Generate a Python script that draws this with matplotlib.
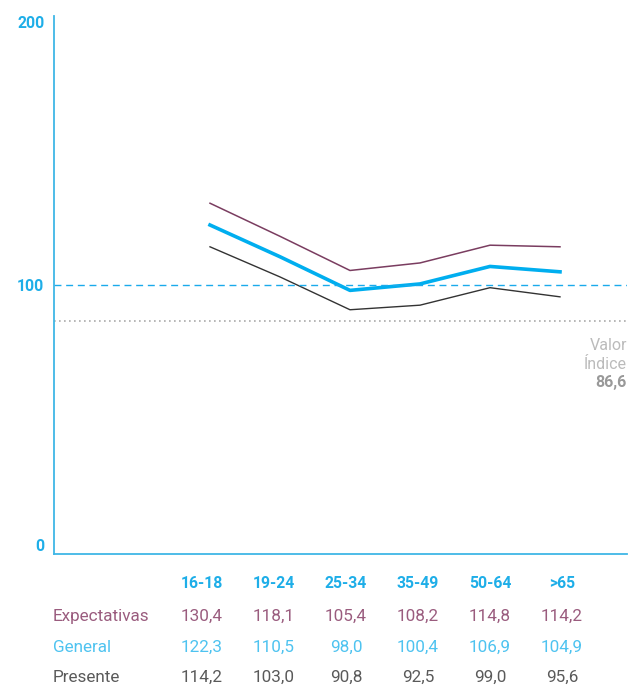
import matplotlib
matplotlib.use("Agg")
import matplotlib.pyplot as plt
from matplotlib.transforms import blended_transform_factory

plt.rcParams['font.family'] = ['Roboto', 'DejaVu Sans']

categories = ["16-18", "19-24", "25-34", "35-49", "50-64", ">65"]
expectativas = [130.4, 118.1, 105.4, 108.2, 114.8, 114.2]
general = [122.3, 110.5, 98.0, 100.4, 106.9, 104.9]
presente = [114.2, 103.0, 90.8, 92.5, 99.0, 95.6]
valor_indice = 86.6
yticks = [0, 100, 200]

def fmt(v):
    return f"{v:.1f}".replace(".", ",")

CYAN = "#1EAEE8"
PURPLE_LINE = "#7A3D60"
PURPLE_TXT = "#9A5C7E"
GEN_LINE = "#00AEEF"
GEN_TXT = "#4EC3F0"
PRES_LINE = "#333333"
PRES_TXT = "#5A5A5A"

W, H = 629, 688
fig = plt.figure(figsize=(W/100, H/100), dpi=100)
ax = fig.add_axes([54/W, (H-554)/H, 573/W, (554-16)/H])

x = list(range(len(categories)))
ax.plot(x, expectativas, color=PURPLE_LINE, lw=1.1)
ax.plot(x, general, color=GEN_LINE, lw=2.6)
ax.plot(x, presente, color=PRES_LINE, lw=1.0)

ax.axhline(100, color="#1AAAEB", lw=1.0, ls=(0, (5, 3.4)))
ax.axhline(valor_indice, color="#AAAAAA", lw=1.2, ls=(0, (1, 2)))

ax.set_ylim(0, 200)
ax.set_xlim(-(210-54)/70, 5 + (627-560)/70)
ax.set_yticks(yticks)
ax.set_yticklabels([str(t) for t in yticks], color=CYAN, fontweight="bold", fontsize=11.3)
ax.tick_params(axis="y", length=0, pad=7)
labs = ax.get_yticklabels()
labs[0].set_va("bottom")
labs[-1].set_va("top")
ax.set_xticks([])
for s in ["top", "right"]:
    ax.spines[s].set_visible(False)
for s in ["left", "bottom"]:
    ax.spines[s].set_color("#3FB6E6")
    ax.spines[s].set_linewidth(1.3)

# Valor indice annotation
tr_right = blended_transform_factory(ax.transAxes, fig.transFigure)
ax.text(1.0, 1 - 346/H, "Valor", transform=tr_right, ha="right", va="center",
        color="#BBBBBB", fontsize=11.5)
ax.text(1.0, 1 - 364/H, "Índice", transform=tr_right, ha="right", va="center",
        color="#BBBBBB", fontsize=11.5)
ax.text(1.0, 1 - 382/H, fmt(valor_indice), transform=tr_right, ha="right", va="center",
        color="#999999", fontsize=11.5, fontweight="bold")

# Table below: its own column scale
tax = fig.add_axes([0, 0, 1, 1], zorder=-1)
tax.set_axis_off()
tax.set_xlim(-202/72, (W-202)/72)
tax.set_ylim(0, 1)
tr = blended_transform_factory(tax.transData, fig.transFigure)
ycat = 1 - 583/H
for i, c in enumerate(categories):
    tax.text(i, ycat, c, transform=tr, ha="center", va="center", color=CYAN,
             fontsize=11.3, fontweight="bold")

rows = [("Expectativas", expectativas, PURPLE_TXT, 616),
        ("General", general, GEN_TXT, 647),
        ("Presente", presente, PRES_TXT, 677)]
for label, vals, col, ypx in rows:
    yf = 1 - ypx/H
    fig.text(53/W, yf, label, ha="left", va="center", color=col, fontsize=12.3)
    for i, v in enumerate(vals):
        tax.text(i, yf, fmt(v), transform=tr, ha="center", va="center", color=col,
                 fontsize=12.3)

fig.savefig("out.png", dpi=100)
